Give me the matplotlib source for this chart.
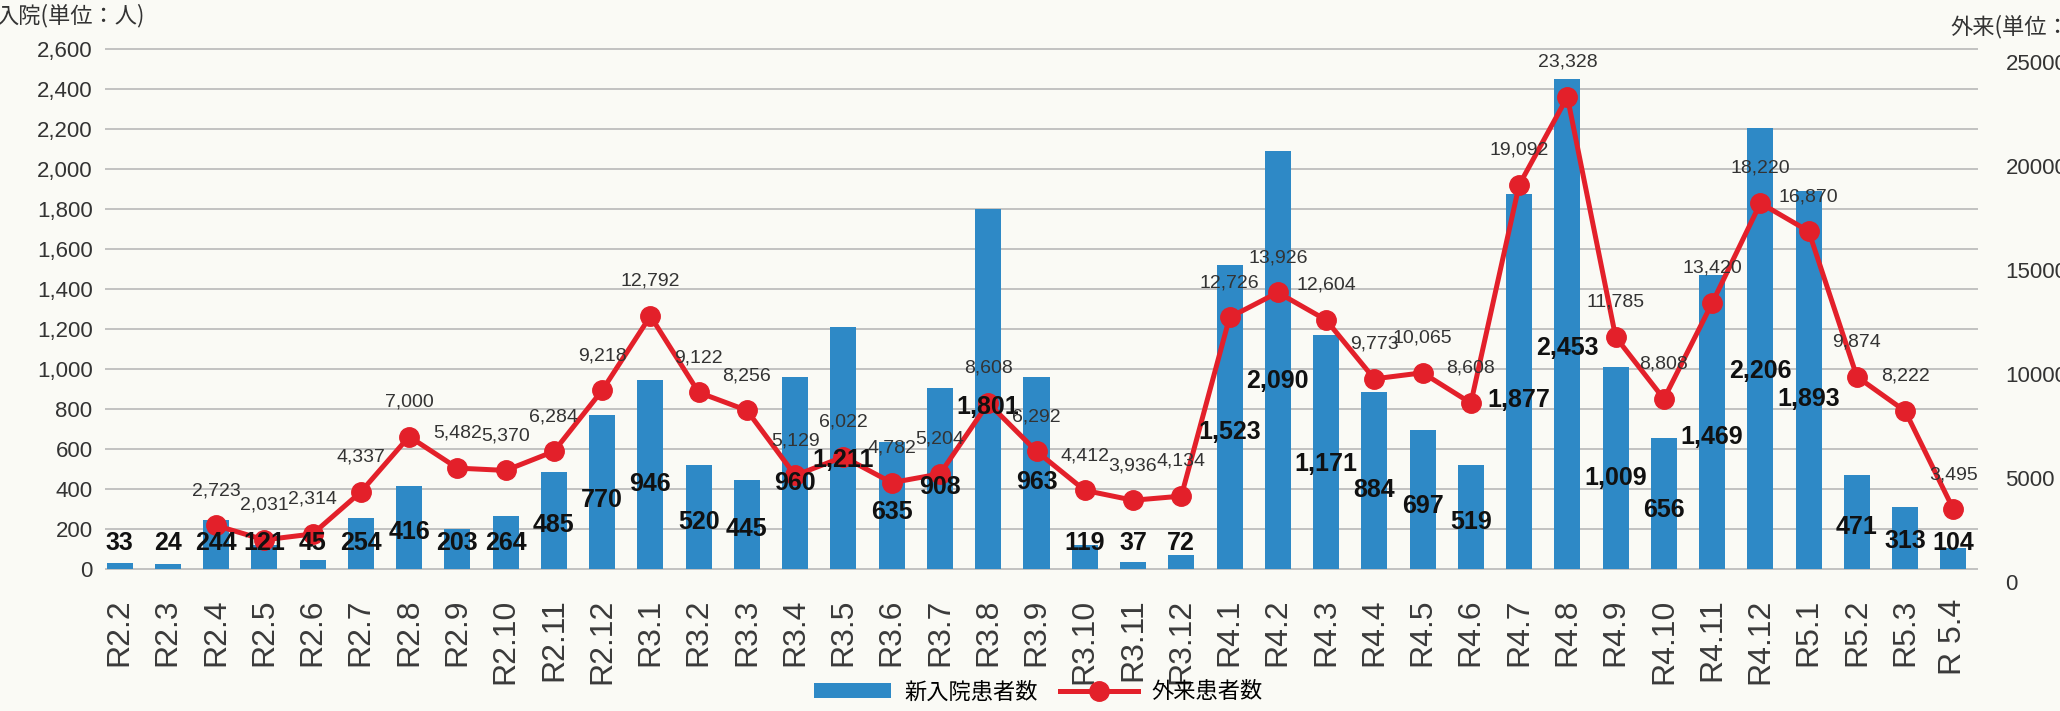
import matplotlib.pyplot as plt
import numpy as np
from matplotlib.ticker import FuncFormatter

# data
months = ['R2.2', 'R2.3', 'R2.4', 'R2.5', 'R2.6', 'R2.7', 'R2.8', 'R2.9', 'R2.10', 'R2.11', 'R2.12',
          'R3.1', 'R3.2', 'R3.3', 'R3.4', 'R3.5', 'R3.6', 'R3.7', 'R3.8', 'R3.9', 'R3.10', 'R3.11', 'R3.12',
          'R4.1', 'R4.2', 'R4.3', 'R4.4', 'R4.5', 'R4.6', 'R4.7', 'R4.8', 'R4.9', 'R4.10', 'R4.11', 'R4.12',
          'R5.1', 'R5.2', 'R5.3', 'R 5.4']
inpatients = [33, 24, 244, 121, 45, 254, 416, 203, 264, 485, 770,
              946, 520, 445, 960, 1211, 635, 908, 1801, 963, 119, 37, 72,
              1523, 2090, 1171, 884, 697, 519, 1877, 2453, 1009, 656, 1469, 2206,
              1893, 471, 313, 104]
# outpatient series starts at R2.4
outpatients = [2723, 2031, 2314, 4337, 7000, 5482, 5370, 6284, 9218,
               12792, 9122, 8256, 5129, 6022, 4782, 5204, 8608, 6292, 4412, 3936, 4134,
               12726, 13926, 12604, 9773, 10065, 8608, 19092, 23328, 11785, 8808, 13420, 18220,
               16870, 9874, 8222, 3495]
out_start = 2

bg = '#FAFAF5'
blue = '#2E89C6'
red = '#E3202A'
jp = ['Noto Sans CJK JP', 'DejaVu Sans']
narrow = ['Liberation Sans Narrow', 'Liberation Sans', 'DejaVu Sans']

fig = plt.figure(figsize=(20.6, 7.11), dpi=100, facecolor=bg)
ax = fig.add_axes([0.051, 0.170, 0.909, 0.7665])
ax.set_facecolor(bg)
ax2 = ax.twinx()

x = np.arange(len(months))
x_out = x[out_start:]

bars = ax.bar(x, inpatients, width=0.54, color=blue, zorder=2, label='新入院患者数')
line, = ax2.plot(x_out, outpatients, color=red, lw=3.6, marker='o', ms=14,
                 zorder=3, label='外来患者数')

ax.set_xlim(-0.3, 38.5)
ax.set_ylim(-105, 2620)
ax2.set_ylim(-385, 25817)
ax.set_yticks(np.arange(0, 2601, 200))
ax2.set_yticks(np.arange(0, 25001, 5000))
ax.yaxis.set_major_formatter(FuncFormatter(lambda v, p: f'{int(v):,}'))
ax.grid(axis='y', color='#b8b8b8', lw=1.2)
ax.set_axisbelow(True)

for a in (ax, ax2):
    for s in a.spines.values():
        s.set_visible(False)
    a.tick_params(length=0)

ax.set_xticks(x)
ax.set_xticklabels(months, rotation=90, fontsize=23, family='Liberation Sans', color='#3a3a3a')
ax.tick_params(axis='x', pad=6)
ax.tick_params(axis='y', labelsize=16, pad=9, labelcolor='#333333')
ax2.tick_params(axis='y', labelsize=16, pad=20, labelcolor='#333333')
for t in ax.get_yticklabels() + ax2.get_yticklabels():
    t.set_family('Liberation Sans')

# bar labels, roughly mid-bar
for xi, v in zip(x, inpatients):
    ax2.text(xi, max(v * 0.45, 130), f'{v:,}', transform=ax.transData,
             ha='center', va='center', fontsize=18, fontweight='bold',
             family=narrow, color='#111111', zorder=5)

# line labels above the points
for xi, v in zip(x_out, outpatients):
    ax2.annotate(f'{v:,}', (xi, v), xytext=(0, 25), textcoords='offset points',
                 ha='center', va='center', fontsize=14, family=narrow,
                 color='#333333', zorder=5)

fig.text(0.0704, 0.978, '入院(単位：人)', ha='right', va='center', fontsize=16,
         family=jp, color='#333333')
fig.text(0.9466, 0.962, '外来(単位：人)', ha='left', va='center', fontsize=16,
         family=jp, color='#333333')

fig.legend(handles=[bars, line], loc='center', bbox_to_anchor=(0.504, 0.027),
           ncol=2, frameon=False, prop={'family': jp, 'size': 16},
           handlelength=3.5, columnspacing=1.0, handletextpad=0.6)

fig.savefig('out.png', dpi=100, facecolor=bg)
